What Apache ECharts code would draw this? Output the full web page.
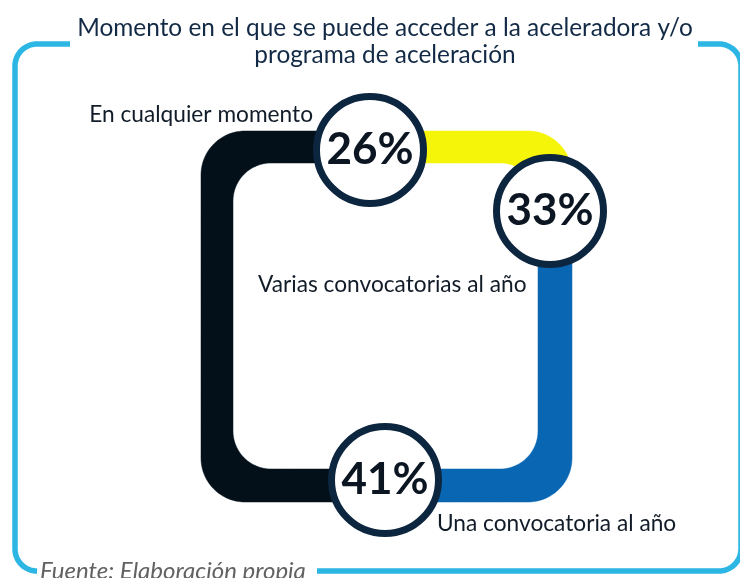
<!DOCTYPE html>
<html>
<head>
<meta charset="utf-8">
<script src="https://cdn.jsdelivr.net/npm/echarts@6/dist/echarts.min.js"></script>
<style>
html,body{margin:0;padding:0;background:#fff;}
#chart{width:740px;height:578px;}
</style>
</head>
<body>
<div id="chart"></div>
<script>
// ---- data ----
const categories = ['En cualquier momento', 'Varias convocatorias al año', 'Una convocatoria al año'];
const values = [26, 33, 41];
const titleLines = ['Momento en el que se puede acceder a la aceleradora y/o', 'programa de aceleración'];
const sourceText = 'Fuente: Elaboración propia';

// ---- styles / layout (not data) ----
const segmentColors = ['#03101a', '#f5f50a', '#0866b2'];
const FONT = 'Lato, "Noto Sans", sans-serif';
const OUTER = {x0: 201, y0: 131, x1: 572, y1: 502, r: 44};
const INNER = {x0: 233, y0: 163, x1: 538, y1: 469, r: 38};
const LAYOUT = [
  {cx: 370, cy: 150, cut: {piece: 0, v: 370}, label: {x: 313, y: 115, align: 'right'}},
  {cx: 550, cy: 211, cut: {piece: 2, v: 211}, label: {x: 258, y: 285, align: 'left'}},
  {cx: 385, cy: 480, cut: {piece: 4, v: 385}, label: {x: 437, y: 524, align: 'left'}}
];
const RING_R = 53.5, RING_W = 7;

function pt(R, piece, u) {
  const {x0, y0, x1, y1, r} = R;
  let a;
  switch (piece) {
    case 0: return [x0 + r + u * (x1 - x0 - 2 * r), y0];
    case 1: a = -Math.PI / 2 + u * Math.PI / 2; return [x1 - r + r * Math.cos(a), y0 + r + r * Math.sin(a)];
    case 2: return [x1, y0 + r + u * (y1 - y0 - 2 * r)];
    case 3: a = u * Math.PI / 2; return [x1 - r + r * Math.cos(a), y1 - r + r * Math.sin(a)];
    case 4: return [x1 - r - u * (x1 - x0 - 2 * r), y1];
    case 5: a = Math.PI / 2 + u * Math.PI / 2; return [x0 + r + r * Math.cos(a), y1 - r + r * Math.sin(a)];
    case 6: return [x0, y1 - r - u * (y1 - y0 - 2 * r)];
    default: a = Math.PI + u * Math.PI / 2; return [x0 + r + r * Math.cos(a), y0 + r + r * Math.sin(a)];
  }
}
function cutT(R, c) {
  const {x0, y0, x1, y1, r} = R;
  let u;
  if (c.piece === 0) u = (c.v - (x0 + r)) / (x1 - x0 - 2 * r);
  else if (c.piece === 4) u = ((x1 - r) - c.v) / (x1 - x0 - 2 * r);
  else if (c.piece === 2) u = (c.v - (y0 + r)) / (y1 - y0 - 2 * r);
  else u = ((y1 - r) - c.v) / (y1 - y0 - 2 * r);
  return c.piece + u;
}
function contour(R, a, b) {
  const ta = cutT(R, a);
  let tb = cutT(R, b);
  if (tb <= ta) tb += 8;
  const ts = [ta];
  for (let t = Math.ceil(ta * 24) / 24; t < tb; t += 1 / 24) if (t > ta) ts.push(t);
  ts.push(tb);
  return ts.map(t => {
    const f = Math.floor(t + 1e-9);
    return pt(R, ((f % 8) + 8) % 8, Math.max(0, t - f));
  });
}
function arcPts(cx, cy, r, a0, a1, n) {
  const out = [];
  for (let k = 0; k <= n; k++) {
    const a = (a0 + (a1 - a0) * k / n) * Math.PI / 180;
    out.push([cx + r * Math.cos(a), cy + r * Math.sin(a)]);
  }
  return out;
}

const frameLeft = [[70, 44]].concat(arcPts(37, 66, 22, -90, -180, 16), arcPts(37, 549, 22, 180, 90, 16), [[36, 571]]);
const frameRight = [[317, 571]].concat(arcPts(719, 549, 22, 90, 0, 16), arcPts(719, 66, 22, 0, -90, 16), [[698, 44]]);

const seriesData = values.map((v, i) => [i, v]);
const n = values.length;

const chart = echarts.init(document.getElementById('chart'), null, {renderer: 'canvas'});
chart.setOption({
  animation: false,
  backgroundColor: '#ffffff',
  grid: {left: 0, right: 0, top: 0, bottom: 0},
  xAxis: {type: 'value', min: 0, max: 740, show: false},
  yAxis: {type: 'value', min: 0, max: 578, inverse: true, show: false},
  graphic: [
    {type: 'polyline', shape: {points: frameLeft}, style: {stroke: '#2cb6e4', lineWidth: 5.5, fill: null}, silent: true},
    {type: 'polyline', shape: {points: frameRight}, style: {stroke: '#2cb6e4', lineWidth: 5.5, fill: null}, silent: true},
    {type: 'text', x: 385, y: 28, style: {text: titleLines[0], font: '24.4px ' + FONT, fill: '#132a46', align: 'center', textAlign: 'center', verticalAlign: 'middle', textVerticalAlign: 'middle'}},
    {type: 'text', x: 385, y: 55, style: {text: titleLines[1], font: '24.4px ' + FONT, fill: '#132a46', align: 'center', textAlign: 'center', verticalAlign: 'middle', textVerticalAlign: 'middle'}},
    {type: 'text', x: 40, y: 571, style: {text: sourceText, font: 'italic 24px ' + FONT, fill: '#626262', align: 'left', textAlign: 'left', verticalAlign: 'middle', textVerticalAlign: 'middle'}}
  ],
  series: [
    {
      type: 'custom',
      coordinateSystem: 'cartesian2d',
      silent: true,
      data: seriesData,
      z: 2,
      renderItem: function (params, api) {
        const i = params.dataIndex;
        const a = LAYOUT[(i + n - 1) % n].cut, b = LAYOUT[i].cut;
        const pts = contour(OUTER, a, b).concat(contour(INNER, a, b).reverse()).map(p => api.coord(p));
        return {type: 'polygon', shape: {points: pts}, style: {fill: segmentColors[i], stroke: segmentColors[i], lineWidth: 0.5}};
      }
    },
    {
      type: 'custom',
      coordinateSystem: 'cartesian2d',
      silent: true,
      data: seriesData,
      z: 3,
      renderItem: function (params, api) {
        const i = params.dataIndex;
        const L = LAYOUT[i];
        const c = api.coord([L.cx, L.cy]);
        const lp = api.coord([L.label.x, L.label.y]);
        return {
          type: 'group',
          children: [
            {type: 'circle', shape: {cx: c[0], cy: c[1], r: RING_R}, style: {fill: '#ffffff', stroke: '#0d2640', lineWidth: RING_W}},
            {type: 'text', x: c[0], y: c[1], style: {text: api.value(1) + '%', font: 'bold 44px ' + FONT, fill: '#0b1622', align: 'center', verticalAlign: 'middle'}},
            {type: 'text', x: lp[0], y: lp[1], style: {text: categories[i], font: '22.7px ' + FONT, fill: '#121c28', align: L.label.align, verticalAlign: 'middle'}}
          ]
        };
      }
    }
  ]
});
</script>
</body>
</html>
